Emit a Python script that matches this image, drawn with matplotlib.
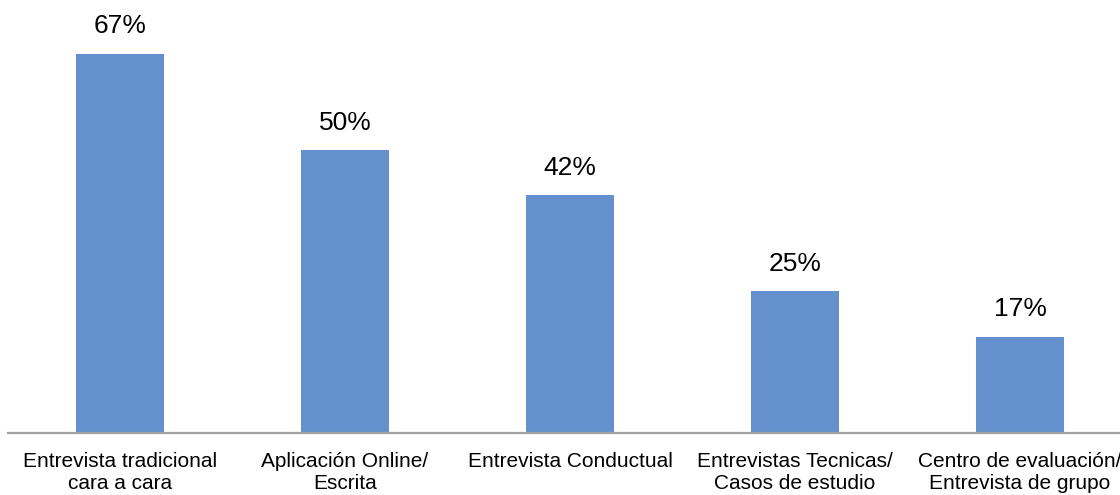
import matplotlib.pyplot as plt

categorias = [
    "Entrevista tradicional\ncara a cara",
    "Aplicación Online/\nEscrita",
    "Entrevista Conductual",
    "Entrevistas Tecnicas/\nCasos de estudio",
    "Centro de evaluación/\nEntrevista de grupo",
]
valores = [67, 50, 42, 25, 17]
etiquetas = ["67%", "50%", "42%", "25%", "17%"]

plt.rcParams['font.family'] = ['Liberation Sans', 'DejaVu Sans']

fig = plt.figure(figsize=(11.2, 4.95), dpi=100)
# the axes run past the right edge, like in the original export
ax = fig.add_axes([7.5 / 1120, 62 / 495, 1125 / 1120, 433 / 495])

x = list(range(len(valores)))
ax.bar(x, valores, width=0.395, color='#6490CD')

for i, v in enumerate(valores):
    ax.annotate(etiquetas[i], (i, v), xytext=(0, 11), textcoords='offset points',
                ha='center', va='bottom', fontsize=19, color='black')

ax.set_xlim(-0.5, 4.5)
ax.set_ylim(0, 76.5)
ax.set_xticks(x)
ax.set_xticklabels(categorias, fontsize=15, linespacing=1.2)
ax.tick_params(axis='x', length=0, pad=14)
ax.set_yticks([])

for s in ['top', 'right', 'left']:
    ax.spines[s].set_visible(False)
ax.spines['bottom'].set_color('#a0a0a0')
ax.spines['bottom'].set_linewidth(1.6)

fig.savefig('out.png', dpi=100)
